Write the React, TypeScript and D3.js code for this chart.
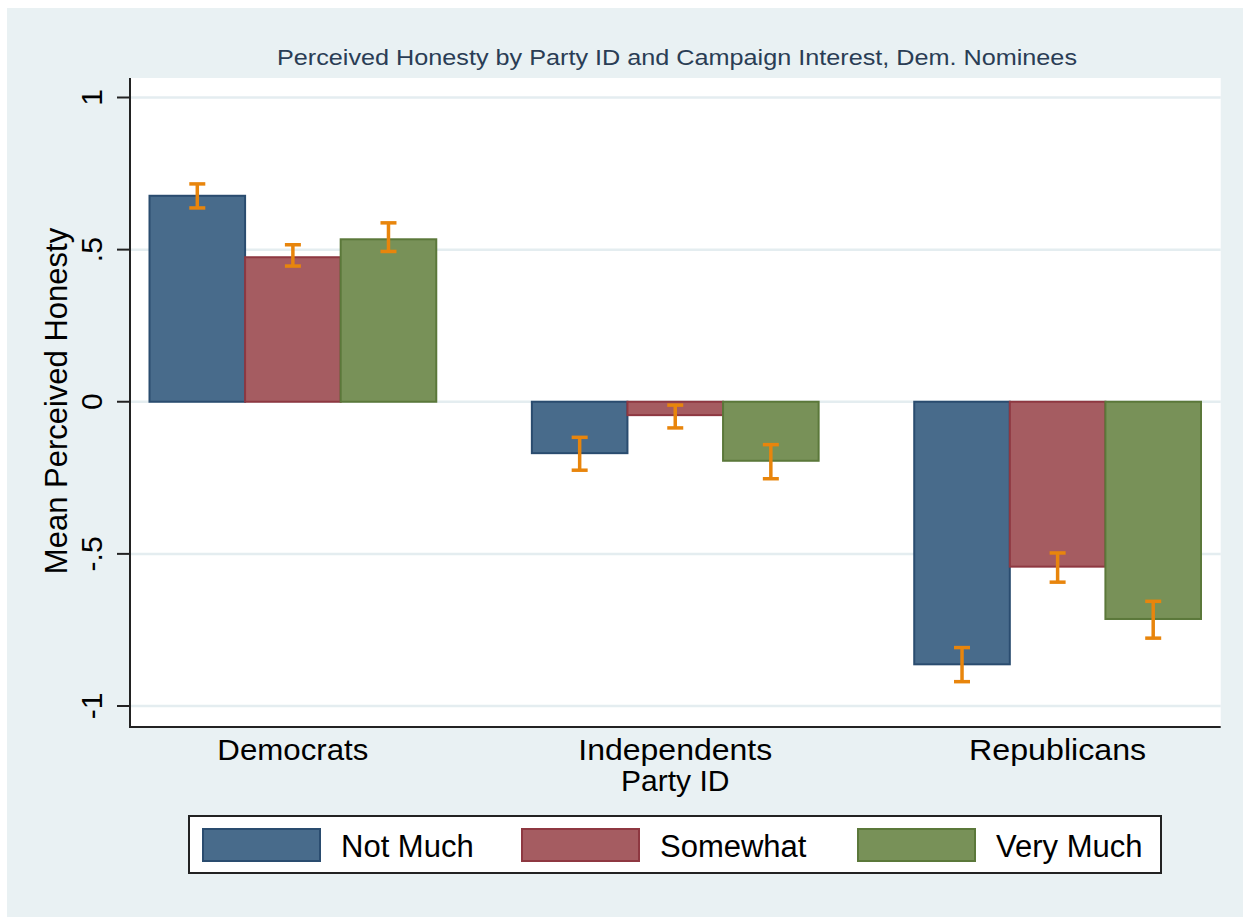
import React from "react";
import * as d3 from "d3";

// Party groups along the x axis and campaign-interest series within each group
const parties = ["Democrats", "Independents", "Republicans"];
const seriesNames = ["Not Much", "Somewhat", "Very Much"];

// Mean perceived honesty per party (Democrats, Independents, Republicans)
const notMuchMean = [0.677, -0.169, -0.863];
const somewhatMean = [0.475, -0.044, -0.542];
const veryMuchMean = [0.534, -0.194, -0.714];

// Confidence interval bounds
const notMuchLow = [0.637, -0.225, -0.92];
const notMuchHigh = [0.716, -0.117, -0.808];
const somewhatLow = [0.446, -0.086, -0.593];
const somewhatHigh = [0.516, -0.011, -0.497];
const veryMuchLow = [0.494, -0.253, -0.777];
const veryMuchHigh = [0.588, -0.141, -0.656];

const yTicks = [1, 0.5, 0, -0.5, -1];
const yTickLabels = ["1", ".5", "0", "-.5", "-1"];

const fills = ["#486b8b", "#a55c61", "#789158"];
const strokes = ["#2a4c6f", "#8e3841", "#5b783a"];
const errColor = "#e8850c";

const W = 1244;
const H = 919;
const plot = { left: 130, right: 1220.7, top: 78, bottom: 727 };
const font = "'Liberation Sans', Arial, sans-serif";

export default function App() {
  const means = [notMuchMean, somewhatMean, veryMuchMean];
  const lows = [notMuchLow, somewhatLow, veryMuchLow];
  const highs = [notMuchHigh, somewhatHigh, veryMuchHigh];

  const y = d3.scaleLinear().domain([-1, 1]).range([706, 97.5]);
  const x0 = d3
    .scaleBand<string>()
    .domain(parties)
    .range([149.5, 1201])
    .paddingInner(0.25)
    .paddingOuter(0);
  const x1 = d3
    .scaleBand<string>()
    .domain(seriesNames)
    .range([0, x0.bandwidth()])
    .padding(0);

  const capHalf = 8;

  return (
    <svg
      width={W}
      height={H}
      style={{ position: "absolute", left: 0, top: 0, background: "#ffffff" }}
      fontFamily={font}
    >
      <rect x={7} y={8} width={1236} height={909} fill="#e9f1f3" />
      <rect
        x={plot.left}
        y={plot.top}
        width={plot.right - plot.left}
        height={plot.bottom - plot.top}
        fill="#ffffff"
      />

      {/* gridlines */}
      {yTicks.map((t) => (
        <line
          key={"g" + t}
          x1={plot.left}
          x2={plot.right}
          y1={y(t)}
          y2={y(t)}
          stroke="#e4edf0"
          strokeWidth={2.5}
        />
      ))}

      {/* title */}
      <text
        x={677}
        y={65}
        textAnchor="middle"
        fontSize={21.5}
        fill="#2a3d55"
        textLength={800}
        lengthAdjust="spacingAndGlyphs"
      >
        Perceived Honesty by Party ID and Campaign Interest, Dem. Nominees
      </text>

      {/* bars */}
      {parties.map((p, pi) =>
        seriesNames.map((s, si) => {
          const v = means[si][pi];
          const bx = (x0(p) as number) + (x1(s) as number);
          const top = Math.min(y(v), y(0));
          const h = Math.abs(y(v) - y(0));
          return (
            <rect
              key={p + s}
              x={bx}
              y={top}
              width={x1.bandwidth()}
              height={h}
              fill={fills[si]}
              stroke={strokes[si]}
              strokeWidth={2}
            />
          );
        })
      )}

      {/* error bars */}
      {parties.map((p, pi) =>
        seriesNames.map((s, si) => {
          const cx = (x0(p) as number) + (x1(s) as number) + x1.bandwidth() / 2;
          const yl = y(lows[si][pi]);
          const yh = y(highs[si][pi]);
          return (
            <g key={"e" + p + s} stroke={errColor} strokeWidth={3.5}>
              <line x1={cx} x2={cx} y1={yh} y2={yl} />
              <line x1={cx - capHalf} x2={cx + capHalf} y1={yh} y2={yh} />
              <line x1={cx - capHalf} x2={cx + capHalf} y1={yl} y2={yl} />
            </g>
          );
        })
      )}

      {/* axes */}
      <line x1={plot.left} x2={plot.left} y1={plot.top} y2={plot.bottom + 1} stroke="#222" strokeWidth={2} />
      <line x1={plot.left} x2={plot.right} y1={plot.bottom} y2={plot.bottom} stroke="#222" strokeWidth={2} />
      {yTicks.map((t, i) => (
        <g key={"t" + t}>
          <line x1={117} x2={plot.left} y1={y(t)} y2={y(t)} stroke="#222" strokeWidth={2} />
          <text
            transform={`translate(102,${y(t)}) rotate(-90)`}
            textAnchor="middle"
            fontSize={30}
            fill="#000"
          >
            {yTickLabels[i]}
          </text>
        </g>
      ))}
      <text
        transform={`translate(67,${401}) rotate(-90)`}
        textAnchor="middle"
        fontSize={31}
        fill="#000"
      >
        Mean Perceived Honesty
      </text>

      {/* x category labels */}
      {parties.map((p) => (
        <text
          key={"x" + p}
          x={(x0(p) as number) + x0.bandwidth() / 2}
          y={760}
          textAnchor="middle"
          fontSize={30}
          fill="#000"
          textLength={p === "Democrats" ? 151 : p === "Independents" ? 194 : 177}
          lengthAdjust="spacingAndGlyphs"
        >
          {p}
        </text>
      ))}
      <text x={(x0("Independents") as number) + x0.bandwidth() / 2} y={791} textAnchor="middle" fontSize={30} fill="#000">
        Party ID
      </text>

      {/* legend */}
      <rect x={189} y={816} width={972} height={57} fill="#ffffff" stroke="#222" strokeWidth={2} />
      {seriesNames.map((s, si) => {
        const sx = [203, 522, 858][si];
        return (
          <g key={"l" + s}>
            <rect x={sx} y={829} width={117} height={32} fill={fills[si]} stroke={strokes[si]} strokeWidth={2} />
            <text x={sx + 138} y={857} fontSize={31} fill="#000">
              {s}
            </text>
          </g>
        );
      })}
    </svg>
  );
}
